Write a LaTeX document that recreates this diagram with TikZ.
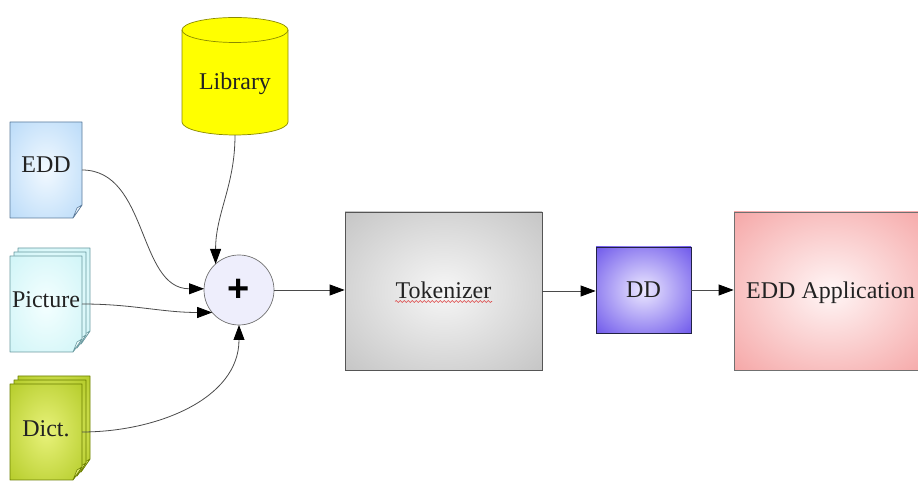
\documentclass[tikz,border=0pt]{standalone}
\usepackage{fontspec}
\setmainfont{Liberation Serif}
\newfontfamily\plusfont{Liberation Sans}
\usetikzlibrary{arrows.meta,decorations.pathmorphing,calc}

% radial fill that reaches the outer colour at the edge midpoints
\makeatletter
\pgfdeclareradialshading[tikz@radial@inner,tikz@radial@outer]{soft}{\pgfpoint{0bp}{0bp}}{%
  color(0bp)=(tikz@radial@inner); color(55bp)=(tikz@radial@outer); color(72bp)=(tikz@radial@outer)}
\makeatother

\definecolor{ink}{HTML}{222222}
\definecolor{wire}{HTML}{4A4A4A}
\definecolor{eddin}{HTML}{F2F9FF}
\definecolor{eddout}{HTML}{9CCBF5}
\definecolor{eddline}{HTML}{5A7A9A}
\definecolor{picin}{HTML}{F4FFFF}
\definecolor{picout}{HTML}{BDEFF3}
\definecolor{picline}{HTML}{6A9AA0}
\definecolor{dicin}{HTML}{E8F27A}
\definecolor{dicout}{HTML}{9AB800}
\definecolor{dicline}{HTML}{6B7F00}
\definecolor{libfill}{HTML}{FFFF00}
\definecolor{libline}{HTML}{8A8A00}
\definecolor{sumfill}{HTML}{EEEEFC}
\definecolor{sumline}{HTML}{707070}
\definecolor{tokin}{HTML}{F6F6F6}
\definecolor{tokout}{HTML}{ABABAB}
\definecolor{tokline}{HTML}{555555}
\definecolor{ddin}{HTML}{ECE8FF}
\definecolor{ddout}{HTML}{2A0AE0}
\definecolor{ddline}{HTML}{222244}
\definecolor{appin}{HTML}{FFF6F6}
\definecolor{appout}{HTML}{F07C7C}
\definecolor{appline}{HTML}{707070}
\definecolor{spell}{HTML}{DD4444}

% one sheet of paper with a folded lower right corner:
% #1,#2 lower left; #3,#4 upper right; #5 inner, #6 outer, #7 border colour
\newcommand\leafsheet[7]{%
  \shade[inner color=#5, outer color=#6, shading=soft, draw=#7, line width=0.7pt, line join=round]
    (#1,#4) -- (#3,#4) -- (#3,#2+13) -- (#3-9,#2) -- (#1,#2) -- cycle;
  \filldraw[fill=#5, draw=#7, line width=0.6pt, line join=round]
    (#3,#2+13) -- (#3-5,#2+10) -- (#3-9,#2) -- cycle;
}

\begin{document}
\begin{tikzpicture}[x=1pt,y=1pt,
  lbl/.style={font=\fontsize{24}{28}\selectfont, text=ink, text height=16pt, text depth=0pt, inner sep=0pt},
  leafbox/.style={minimum width=72pt, minimum height=96pt, inner sep=0pt, outer sep=0pt},
  softfill/.style n args={2}{inner color=#1, outer color=#2, shading=soft},
  flow/.style={draw=wire, line width=0.8pt, -{Triangle[length=15pt,width=11pt,color=black]}},
]
\useasboundingbox (0,0) rectangle (918,481);
\clip (0,0) rectangle (918,481);

% documents
\leafsheet{10}{263}{82}{359}{eddin}{eddout}{eddline}
\leafsheet{18}{137}{90}{233}{picin}{picout}{picline}
\leafsheet{14}{133}{86}{229}{picin}{picout}{picline}
\leafsheet{10}{129}{82}{225}{picin}{picout}{picline}
\leafsheet{18}{9}{90}{105}{dicin}{dicout}{dicline}
\leafsheet{14}{5}{86}{101}{dicin}{dicout}{dicline}
\leafsheet{10}{1}{82}{97}{dicin}{dicout}{dicline}

\node[leafbox] (edd) at (46,311) {};
\node[lbl] (eddtxt) at (46,316) {EDD};
\node[leafbox] (pic) at (46,177) {};
\node[lbl] (pictxt) at (46,181) {Picture};
\node[leafbox] (dict) at (46,49) {};
\node[lbl] (dicttxt) at (46,52) {Dict.};

% library cylinder
\fill[libfill] (182,451) -- (182,359) arc[start angle=180, end angle=360, x radius=53pt, y radius=13pt] -- (288,451) -- cycle;
\fill[libfill] (235,451) ellipse[x radius=53pt, y radius=12.5pt];
\draw[libline, line width=0.7pt] (182,451) -- (182,359) arc[start angle=180, end angle=360, x radius=53pt, y radius=13pt] -- (288,451);
\draw[libline, line width=0.7pt] (235,451) ellipse[x radius=53pt, y radius=12.5pt];
\node[lbl, minimum height=106pt] (lib) at (235,399) {Library};

% join point
\node[circle, minimum size=70pt, inner sep=0pt, outer sep=0pt, fill=sumfill, draw=sumline, line width=0.7pt] (plus) at (239,191) {};
\node[font=\plusfont\bfseries\fontsize{38}{38}\selectfont, text=black, inner sep=0pt] (plussign) at (239,191) {+};

% processing blocks
\node[lbl, softfill={tokin}{tokout}, draw=tokline, line width=0.8pt, minimum width=197pt, minimum height=158pt] (tok) at (443.5,190) {Tokenizer};
\draw[spell, line width=0.6pt, decorate, decoration={snake, amplitude=1pt, segment length=4pt}]
  ($(tok.base)+(-48.5,-2.5)$) -- ($(tok.base)+(48.5,-2.5)$);
\node[lbl, softfill={ddin}{ddout}, draw=ddline, line width=0.8pt, minimum width=95pt, minimum height=86pt] (dd) at (643.5,191) {DD};
\node[lbl, softfill={appin}{appout}, draw=appline, line width=0.8pt, minimum width=193pt, minimum height=158pt] (app) at (830.5,190) {EDD Application};

% connectors
\draw[flow] (edd.east) to[out=0, in=180] (plus.178);
\draw[flow] (pic.east) to[out=0, in=180] (plus.220);
\draw[flow] (dict.east) to[out=0, in=-90] (plus.south);
\draw[flow] (lib.south) to[out=-90, in=90] (plus.132);
\draw[flow] (plus.east) -- (plus.east -| tok.west);
\draw[flow] (tok.east) -- (tok.east -| dd.west);
\draw[flow] (dd.east) -- (dd.east -| app.west);
\end{tikzpicture}
\end{document}
